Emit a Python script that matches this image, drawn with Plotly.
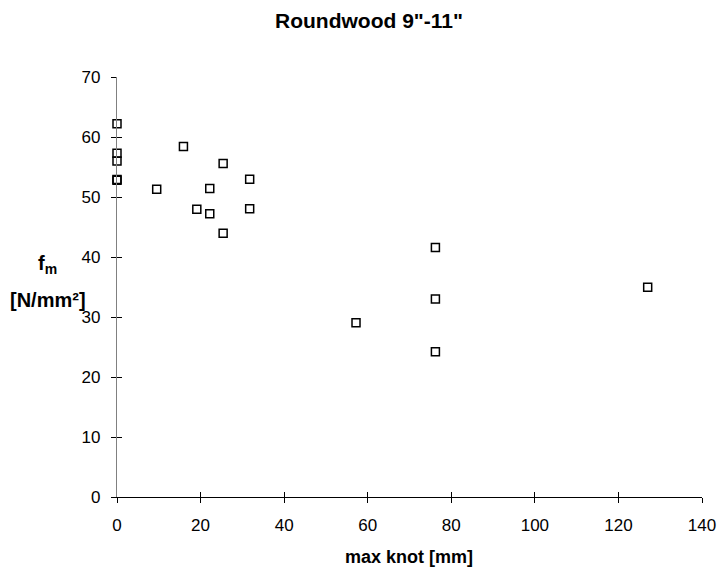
import plotly.graph_objects as go

knot_mm = [0, 0, 0, 0, 0, 15.9, 9.5, 25.4, 22.2, 31.75, 19.1, 22.2, 31.75, 25.4,
           76.2, 127.0, 76.2, 57.2, 76.2]
fm = [62.2, 57.3, 56.0, 52.9, 52.8, 58.4, 51.3, 55.6, 51.4, 52.95, 47.95, 47.2, 48.05, 43.95,
      41.6, 34.95, 33.0, 29.05, 24.2]

title = 'Roundwood 9"-11"'
x_title = "max knot [mm]"
y_title_1 = "f<sub>m</sub>"
y_title_2 = "[N/mm²]"
x_ticks = [0, 20, 40, 60, 80, 100, 120, 140]
y_ticks = [0, 10, 20, 30, 40, 50, 60, 70]

font = "Liberation Sans, Arial, sans-serif"

L, R, T, B = 116.5, 16.7, 77, 70.7
W, H = 728, 568
pw, ph = W - L - R, H - T - B


def px(x):
    return (x - L) / pw


def py(y):
    return (H - B - y) / ph


fig = go.Figure()
fig.add_trace(go.Scatter(
    x=knot_mm, y=fm, mode="markers", cliponaxis=False,
    marker=dict(symbol="square-open", size=8, color="black", line=dict(width=1.5, color="black")),
    showlegend=False,
))
fig.add_trace(go.Scatter(x=[None], y=[None], xaxis="x2", yaxis="y2", showlegend=False))

fig.update_layout(
    width=W, height=H,
    margin=dict(l=L, r=R, t=T, b=B),
    paper_bgcolor="white", plot_bgcolor="white",
    font=dict(family=font, size=17, color="black"),
    xaxis=dict(range=[0, 140], tickvals=x_ticks, showgrid=False, zeroline=False,
               showline=True, linecolor="black", linewidth=1,
               ticks="outside", ticklen=5, tickcolor="black", tickwidth=1,
               ticklabelstandoff=8, ticklabeloverflow="allow",
               tickfont=dict(size=17)),
    yaxis=dict(range=[0, 70], tickvals=y_ticks, showgrid=False, zeroline=False,
               showline=True, linecolor="#808080", linewidth=1.2,
               ticks="outside", ticklen=5, tickcolor="black", tickwidth=1,
               ticklabelstandoff=7,
               tickfont=dict(size=17)),
    xaxis2=dict(range=[0, 140], tickvals=x_ticks, overlaying="x", side="bottom",
                showgrid=False, zeroline=False, showline=False, showticklabels=False,
                ticks="inside", ticklen=5, tickcolor="black", tickwidth=1),
    yaxis2=dict(range=[0, 70], tickvals=y_ticks, overlaying="y", side="left",
                showgrid=False, zeroline=False, showline=False, showticklabels=False,
                ticks="inside", ticklen=5, tickcolor="black", tickwidth=1),
    annotations=[
        dict(text=f"<b>{title}</b>", xref="paper", yref="paper",
             x=px(372.7), y=py(20.7), xanchor="center", yanchor="middle",
             showarrow=False, font=dict(size=21, family=font)),
        dict(text=f"<b>{x_title}</b>", xref="paper", yref="paper",
             x=px(413.5), y=py(557.5), xanchor="center", yanchor="middle",
             showarrow=False, font=dict(size=18, family=font)),
        dict(text=f"<b>{y_title_1}</b>", xref="paper", yref="paper",
             x=px(46), y=py(265), xanchor="center", yanchor="middle",
             showarrow=False, font=dict(size=20, family=font)),
        dict(text=f"<b>{y_title_2}</b>", xref="paper", yref="paper",
             x=px(46), y=py(300), xanchor="center", yanchor="middle",
             showarrow=False, font=dict(size=20, family=font)),
    ],
)

fig.write_html("out.html")
